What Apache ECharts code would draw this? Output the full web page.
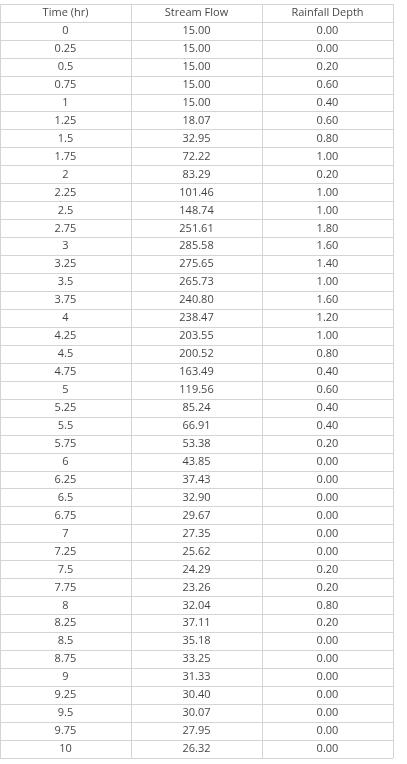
<!DOCTYPE html>
<html>
<head>
<meta charset="utf-8">
<script src="https://cdn.jsdelivr.net/npm/echarts@6/dist/echarts.min.js"></script>
<style>html,body{margin:0;padding:0;background:#fff}#main{width:407px;height:764px}</style>
</head>
<body>
<div id="main"></div>
<script>
// 表格数据
var columns = ["Time (hr)", "Stream Flow", "Rainfall Depth"];
var time = [0,0.25,0.5,0.75,1,1.25,1.5,1.75,2,2.25,2.5,2.75,3,3.25,3.5,3.75,4,4.25,4.5,4.75,5,
    5.25,5.5,5.75,6,6.25,6.5,6.75,7,7.25,7.5,7.75,8,8.25,8.5,8.75,9,9.25,9.5,9.75,10];
var streamFlow = [15.00,15.00,15.00,15.00,15.00,18.07,32.95,72.22,83.29,101.46,148.74,251.61,285.58,
    275.65,265.73,240.80,238.47,203.55,200.52,163.49,119.56,85.24,66.91,53.38,43.85,37.43,32.90,
    29.67,27.35,25.62,24.29,23.26,32.04,37.11,35.18,33.25,31.33,30.40,30.07,27.95,26.32];
var rainfall = [0.00,0.00,0.20,0.60,0.40,0.60,0.80,1.00,0.20,1.00,1.00,1.80,1.60,1.40,1.00,1.60,
    1.20,1.00,0.80,0.40,0.60,0.40,0.40,0.20,0.00,0.00,0.00,0.00,0.00,0.00,0.20,0.20,0.80,0.20,
    0.00,0.00,0.00,0.00,0.00,0.00,0.00];

var rows = ["h"];
var cells = [];
columns.forEach(function(c, i){ cells.push([i, 0, c]); });
time.forEach(function(t, r){
    rows.push("r" + r);
    cells.push([0, r + 1, String(t)]);
    cells.push([1, r + 1, streamFlow[r].toFixed(2)]);
    cells.push([2, r + 1, rainfall[r].toFixed(2)]);
});

var chart = echarts.init(document.getElementById("main"));
var option = {
    animation: false,
    grid: { left: 0, top: 4, width: 393, height: 754 },
    xAxis: {
        type: "category",
        data: [0, 1, 2],
        axisLine: { show: false },
        axisTick: { show: false },
        axisLabel: { show: false },
        splitLine: { show: true, interval: 0, lineStyle: { color: "#d4d4d4", width: 1 } }
    },
    yAxis: {
        type: "category",
        inverse: true,
        data: rows,
        axisLine: { show: false },
        axisTick: { show: false },
        axisLabel: { show: false },
        splitLine: { show: true, interval: 0, lineStyle: { color: "#d4d4d4", width: 1 } }
    },
    series: [{
        type: "scatter",
        symbolSize: 0,
        silent: true,
        data: cells,
        label: {
            show: true,
            position: "inside",
            color: "#111",
            fontFamily: "Open Sans",
            fontSize: 11,
            formatter: function(p){ return p.data[2]; }
        }
    }]
};
chart.setOption(option);
</script>
</body>
</html>
